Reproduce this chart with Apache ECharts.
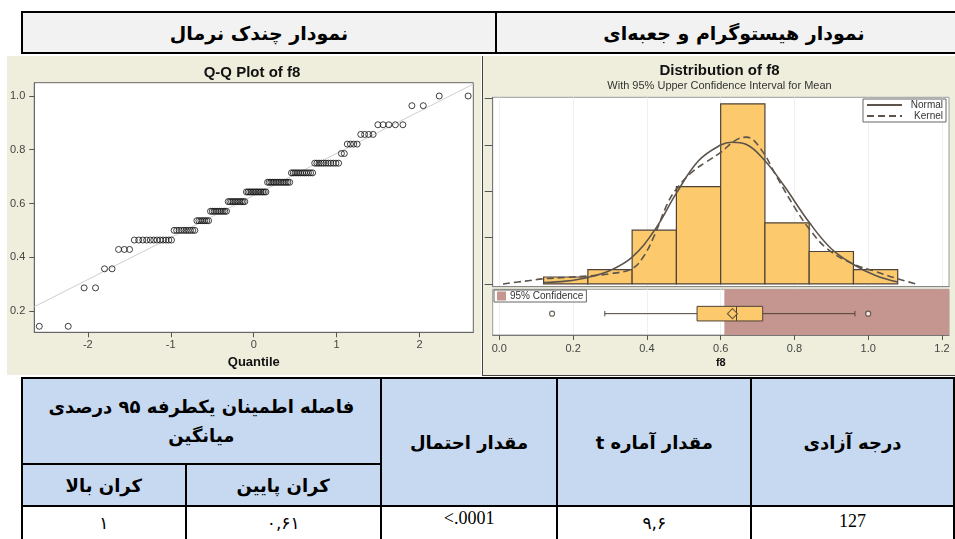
<!DOCTYPE html>
<html>
<head>
<meta charset="utf-8">
<script src="https://cdn.jsdelivr.net/npm/echarts@6/dist/echarts.min.js"></script>
<style>
body{
  margin:0;
  width:955px;
  height:539px;
  overflow:hidden;
  background:#fff;
  position:relative;
}
table{
  position:absolute;
  border-collapse:collapse;
  direction:rtl;
  font-family:"DejaVu Sans", sans-serif;
  font-weight:bold;
  color:#000;
}
td{
  border:2px solid #000;
  text-align:center;
  vertical-align:middle;
  padding:0;
}
.head-table{
  left:21px;
  top:11px;
  width:952px;
  height:43px;
  font-size:19px;
}
.head-table td{
  background:#f2f2f2;
}
.panel{
  position:absolute;
  top:56px;
  height:319px;
  background:#efeedc;
  overflow:hidden;
}
.stat-table{
  left:21px;
  top:377px;
  font-size:18px;
}
.stat-table .h{
  background:#c6d9f1;
}
.stat-table .v{
  vertical-align:top;
  padding-top:4px;
}
.stat-table .num{
  font-family:"Liberation Serif", serif;
  font-weight:normal;
  font-size:18px;
}
.stat-table .fa{
  font-weight:normal;
  font-size:17px;
  padding-top:6px;
}
</style>
</head>
<body>

<table class="head-table">
  <tr>
    <td style="width:474px">نمودار هیستوگرام و جعبه‌ای</td>
    <td>نمودار چندک نرمال</td>
  </tr>
</table>

<div class="panel" style="left:7px;width:474px">
  <div id="qqChart" style="width:474px;height:319px"></div>
</div>
<div class="panel" style="left:482px;width:473px;border-left:1px solid #444;border-bottom:1px solid #444;">
  <div id="distChart" style="width:473px;height:319px"></div>
</div>

<table class="stat-table">
  <tr style="height:86px">
    <td class="h" rowspan="2" style="width:208px">درجه آزادی</td>
    <td class="h" rowspan="2" style="width:198px">مقدار آماره t</td>
    <td class="h" rowspan="2" style="width:180px">مقدار احتمال</td>
    <td class="h" colspan="2" style="line-height:29px">فاصله اطمینان یکطرفه ۹۵ درصدی<br>میانگین</td>
  </tr>
  <tr style="height:42px">
    <td class="h" style="width:200px">کران پایین</td>
    <td class="h" style="width:167px">کران بالا</td>
  </tr>
  <tr style="height:40px">
    <td class="v num">127</td>
    <td class="v fa">۹,۶</td>
    <td class="v num" dir="ltr" style="padding-top:1px">&lt;.0001</td>
    <td class="v fa">۰,۶۱</td>
    <td class="v fa">۱</td>
  </tr>
</table>

<script>
// Q-Q plot data: distinct f8 values and how many observations sit at each
const qqLevels = [0.143, 0.286, 0.357, 0.429, 0.464, 0.5, 0.536, 0.571, 0.607, 0.643,
  0.679, 0.714, 0.75, 0.786, 0.821, 0.857, 0.893, 0.964, 1.0]
const qqCounts = [2, 2, 2, 3, 12, 10, 7, 10, 11, 13, 14, 12, 11, 2, 4, 4, 5, 2, 2]
const qqMean = 0.63
const qqSd = 0.1566
const qqTicksX = [-2, -1, 0, 1, 2]
const qqTicksY = [0.2, 0.4, 0.6, 0.8, 1.0]

// histogram (percent) and fitted curves
const binEdges = [0.12, 0.24, 0.36, 0.48, 0.60, 0.72, 0.84, 0.96, 1.08]
const binPercent = [1.5, 3.1, 11.6, 21.0, 38.9, 13.2, 7.0, 3.1]
const normalCurve = [
  [0.12, 0.3], [0.18, 0.6], [0.24, 1.4], [0.30, 2.9], [0.36, 5.8], [0.42, 11.5],
  [0.48, 19.6], [0.54, 26.6], [0.60, 30.0], [0.63, 30.6], [0.67, 30.1], [0.72, 26.6],
  [0.77, 21.4], [0.84, 13.3], [0.90, 7.6], [0.96, 4.2], [1.02, 1.8], [1.08, 0.4]
]
const kernelCurve = [
  [0.01, 0.0], [0.07, 0.6], [0.12, 1.1], [0.18, 1.4], [0.24, 1.7], [0.30, 2.2],
  [0.36, 3.3], [0.39, 5.8], [0.42, 10.4], [0.456, 17.4], [0.48, 20.5], [0.52, 24.0],
  [0.56, 26.3], [0.60, 28.4], [0.64, 31.0], [0.67, 31.7], [0.71, 29.0], [0.75, 23.4],
  [0.80, 16.6], [0.84, 11.9], [0.89, 7.5], [0.96, 4.3], [1.02, 2.7], [1.08, 1.1], [1.13, 0.0]
]
const distTicksX = [0, 0.2, 0.4, 0.6, 0.8, 1.0, 1.2]
const distTicksY = [0, 10, 20, 30, 40]

// box plot: min whisker, Q1, median, Q3, max whisker
const boxStats = [0.286, 0.536, 0.643, 0.714, 0.964]
const boxMean = 0.632
const boxOutliers = [0.143, 1.0]
const ciLower = 0.61

function probit(p) {
  const a = [-39.69683028665376, 220.9460984245205, -275.9285104469687, 138.3577518672690, -30.66479806614716, 2.506628277459239]
  const b = [-54.47609879822406, 161.5858368580409, -155.6989798598866, 66.80131188771972, -13.28068155288572]
  const c = [-0.007784894002430293, -0.3223964580411365, -2.400758277161838, -2.549732539343734, 4.374664141464968, 2.938163982698783]
  const d = [0.007784695709041462, 0.3224671290700398, 2.445134137142996, 3.754408661907416]
  const tail = q => (((((c[0] * q + c[1]) * q + c[2]) * q + c[3]) * q + c[4]) * q + c[5]) / ((((d[0] * q + d[1]) * q + d[2]) * q + d[3]) * q + 1)
  if (p < 0.02425) return tail(Math.sqrt(-2 * Math.log(p)))
  if (p > 1 - 0.02425) return -tail(Math.sqrt(-2 * Math.log(1 - p)))
  const q = p - 0.5
  const r = q * q
  return (((((a[0] * r + a[1]) * r + a[2]) * r + a[3]) * r + a[4]) * r + a[5]) * q /
    (((((b[0] * r + b[1]) * r + b[2]) * r + b[3]) * r + b[4]) * r + 1)
}

// sorted sample -> normal quantiles (Blom)
const sample = []
qqLevels.forEach((v, i) => {
  for (let k = 0; k < qqCounts[i]; k++) sample.push(v)
})
const n = sample.length
const qqPoints = sample.map((v, i) => [probit((i + 1 - 0.375) / (n + 0.25)), v])

const qqXMin = -2.645
const qqXMax = 2.647
const qqLine = [[qqXMin, qqMean + qqSd * qqXMin], [qqXMax, qqMean + qqSd * qqXMax]]

const axisText = { color: '#444', fontSize: 11, fontFamily: 'Liberation Sans' }

const qqChart = echarts.init(document.getElementById('qqChart'))
qqChart.setOption({
  animation: false,
  graphic: [{
    type: 'text',
    x: 245,
    y: 17,
    style: {
      text: 'Q-Q Plot of f8',
      font: 'bold 15px "Liberation Sans"',
      fill: '#111',
      align: 'center',
      verticalAlign: 'middle'
    }
  }],
  grid: {
    left: 25.3,
    right: 7.7,
    top: 26.7,
    bottom: 42.7,
    show: true,
    backgroundColor: '#fff',
    borderColor: '#666',
    borderWidth: 1
  },
  xAxis: {
    type: 'value',
    min: qqXMin,
    max: qqXMax,
    axisLine: { show: true, onZero: false, lineStyle: { color: '#666' } },
    axisTick: { show: true, length: 5, customValues: qqTicksX, lineStyle: { color: '#555' } },
    axisLabel: { ...axisText, margin: 7, customValues: qqTicksX },
    splitLine: { show: false },
    name: 'Quantile',
    nameLocation: 'middle',
    nameGap: 24,
    nameTextStyle: { fontSize: 13, fontWeight: 'bold', color: '#111', fontFamily: 'Liberation Sans' }
  },
  yAxis: {
    type: 'value',
    min: 0.1207,
    max: 1.0495,
    axisLine: { show: true, onZero: false, lineStyle: { color: '#666' } },
    axisTick: { show: true, length: 5, customValues: qqTicksY, lineStyle: { color: '#555' } },
    axisLabel: { ...axisText, margin: 9, customValues: qqTicksY, formatter: v => v.toFixed(1) },
    splitLine: { show: false }
  },
  series: [
    {
      type: 'line',
      data: qqLine,
      symbol: 'none',
      lineStyle: { color: '#cfcfcf', width: 1 },
      z: 1
    },
    {
      type: 'scatter',
      data: qqPoints,
      symbol: 'circle',
      symbolSize: 6,
      itemStyle: { color: 'rgba(0,0,0,0)', borderColor: '#111', borderWidth: 1 },
      z: 2
    }
  ]
})

const barFill = '#fcc96c'
const edgeColor = '#4f4338'
const curveColor = '#5c544c'
const bandColor = '#c5958f'
const xMin = -0.018
const xMax = 1.219

const gridLines = {
  show: true,
  lineStyle: { color: '#e2e2e2', type: 'dotted', width: 1 }
}

const distChart = echarts.init(document.getElementById('distChart'))
distChart.setOption({
  animation: false,
  title: {
    text: 'Distribution of f8',
    subtext: 'With 95% Upper Confidence Interval for Mean',
    left: 'center',
    top: 7,
    itemGap: 2,
    padding: 0,
    textStyle: { fontSize: 15, fontWeight: 'bold', color: '#111', fontFamily: 'Liberation Sans' },
    subtextStyle: { fontSize: 11, color: '#333', fontFamily: 'Liberation Sans' }
  },
  legend: [
    {
      data: ['Normal', 'Kernel'],
      orient: 'vertical',
      right: 10,
      top: 43,
      itemWidth: 35,
      itemHeight: 8,
      itemGap: 1,
      itemStyle: { opacity: 0 },
      padding: [1, 3, 1, 3],
      backgroundColor: '#fff',
      borderColor: '#666',
      borderWidth: 1,
      borderRadius: 0,
      formatter: name => '{r|' + name + '}',
      textStyle: {
        fontSize: 10,
        color: '#333',
        fontFamily: 'Liberation Sans',
        rich: { r: { width: 36, align: 'right', fontSize: 10, color: '#333', fontFamily: 'Liberation Sans' } }
      }
    },
    {
      data: ['95% Confidence'],
      left: 11,
      top: 234,
      icon: 'rect',
      itemWidth: 9,
      itemHeight: 9,
      itemGap: 2,
      padding: [1, 3, 1, 3],
      backgroundColor: '#fff',
      borderColor: '#666',
      borderWidth: 1,
      borderRadius: 0,
      textStyle: { fontSize: 10, color: '#333', fontFamily: 'Liberation Sans', padding: [0, 0, 0, -1] }
    }
  ],
  grid: [
    { left: 9.7, right: 7, top: 41.3, height: 189.4, show: true, backgroundColor: '#fff', borderColor: '#9a9a9a', borderWidth: 1 },
    { left: 9.7, right: 7, top: 233.3, height: 45.7, show: true, backgroundColor: '#fff', borderColor: '#9a9a9a', borderWidth: 1 }
  ],
  xAxis: [
    {
      type: 'value',
      gridIndex: 0,
      min: xMin,
      max: xMax,
      axisLine: { show: true, onZero: false, lineStyle: { color: '#888' } },
      axisTick: { show: false, customValues: distTicksX },
      axisLabel: { show: false, customValues: distTicksX },
      splitLine: gridLines
    },
    {
      type: 'value',
      gridIndex: 1,
      min: xMin,
      max: xMax,
      axisLine: { show: true, onZero: false, lineStyle: { color: '#777' } },
      axisTick: { show: true, length: 5, customValues: distTicksX, lineStyle: { color: '#555' } },
      axisLabel: { ...axisText, margin: 8, customValues: distTicksX, formatter: v => v.toFixed(1) },
      splitLine: gridLines,
      name: 'f8',
      nameLocation: 'middle',
      nameGap: 22,
      nameTextStyle: { fontSize: 11, fontWeight: 'bold', color: '#111', fontFamily: 'Liberation Sans' }
    }
  ],
  yAxis: [
    {
      type: 'value',
      gridIndex: 0,
      min: -0.6,
      max: 40.3,
      axisLine: { show: true, onZero: false, lineStyle: { color: '#777' } },
      axisTick: { show: true, length: 8, customValues: distTicksY, lineStyle: { color: '#555' } },
      axisLabel: { show: false, customValues: distTicksY },
      splitLine: { show: false }
    },
    {
      type: 'category',
      gridIndex: 1,
      data: ['f8'],
      show: false
    }
  ],
  series: [
    {
      name: 'bins',
      type: 'custom',
      xAxisIndex: 0,
      yAxisIndex: 0,
      data: binPercent.map((v, i) => [binEdges[i], binEdges[i + 1], v]),
      encode: { x: [0, 1], y: 2 },
      renderItem: function(params, api) {
        const p0 = api.coord([api.value(0), api.value(2)])
        const p1 = api.coord([api.value(1), 0])
        return {
          type: 'rect',
          shape: { x: p0[0], y: p0[1], width: p1[0] - p0[0], height: p1[1] - p0[1] },
          style: { fill: barFill, stroke: edgeColor, lineWidth: 1.2 }
        }
      },
      z: 2
    },
    {
      name: 'Normal',
      type: 'line',
      xAxisIndex: 0,
      yAxisIndex: 0,
      data: normalCurve,
      smooth: 0.4,
      symbol: 'none',
      lineStyle: { color: curveColor, width: 1.6 },
      itemStyle: { color: curveColor },
      z: 3
    },
    {
      name: 'Kernel',
      type: 'line',
      xAxisIndex: 0,
      yAxisIndex: 0,
      data: kernelCurve,
      smooth: 0.4,
      symbol: 'none',
      lineStyle: { color: curveColor, width: 1.6, type: [7, 4] },
      itemStyle: { color: curveColor },
      z: 3
    },
    {
      name: '95% Confidence',
      type: 'custom',
      xAxisIndex: 1,
      yAxisIndex: 1,
      data: [[ciLower, xMax]],
      encode: { x: [0, 1] },
      itemStyle: { color: bandColor },
      renderItem: function(params, api) {
        const cs = params.coordSys
        const x0 = api.coord([api.value(0), 0])[0]
        const x1 = api.coord([api.value(1), 0])[0]
        return {
          type: 'rect',
          shape: { x: x0, y: cs.y, width: x1 - x0, height: cs.height },
          style: { fill: bandColor }
        }
      },
      z: 1
    },
    {
      name: 'box',
      type: 'custom',
      xAxisIndex: 1,
      yAxisIndex: 1,
      data: [boxStats],
      encode: { x: [0, 1, 2, 3, 4] },
      renderItem: function(params, api) {
        const px = i => api.coord([api.value(i), 0])[0]
        const y = api.coord([api.value(0), 0])[1] + 1.5
        const lo = px(0)
        const q1 = px(1)
        const md = px(2)
        const q3 = px(3)
        const hi = px(4)
        const h = 7.3
        const c = 2.7
        const st = { stroke: edgeColor, lineWidth: 1 }
        return {
          type: 'group',
          children: [
            { type: 'line', shape: { x1: lo, y1: y, x2: q1, y2: y }, style: st },
            { type: 'line', shape: { x1: q3, y1: y, x2: hi, y2: y }, style: st },
            { type: 'line', shape: { x1: lo, y1: y - c, x2: lo, y2: y + c }, style: st },
            { type: 'line', shape: { x1: hi, y1: y - c, x2: hi, y2: y + c }, style: st },
            { type: 'rect', shape: { x: q1, y: y - h, width: q3 - q1, height: 2 * h }, style: { fill: barFill, stroke: edgeColor, lineWidth: 1 } },
            { type: 'line', shape: { x1: md, y1: y - h, x2: md, y2: y + h }, style: st }
          ]
        }
      },
      z: 3
    },
    {
      name: 'outliers',
      type: 'scatter',
      xAxisIndex: 1,
      yAxisIndex: 1,
      data: boxOutliers.map(v => [v, 0]),
      symbol: 'circle',
      symbolSize: 5,
      symbolOffset: [0, 1.5],
      itemStyle: { color: '#fff', borderColor: edgeColor, borderWidth: 1.2 },
      z: 4
    },
    {
      name: 'mean',
      type: 'scatter',
      xAxisIndex: 1,
      yAxisIndex: 1,
      data: [[boxMean, 0]],
      symbol: 'diamond',
      symbolSize: [10, 10],
      symbolOffset: [0, 1.5],
      itemStyle: { color: barFill, borderColor: edgeColor, borderWidth: 1.2 },
      z: 5
    }
  ]
})
</script>
</body>
</html>
